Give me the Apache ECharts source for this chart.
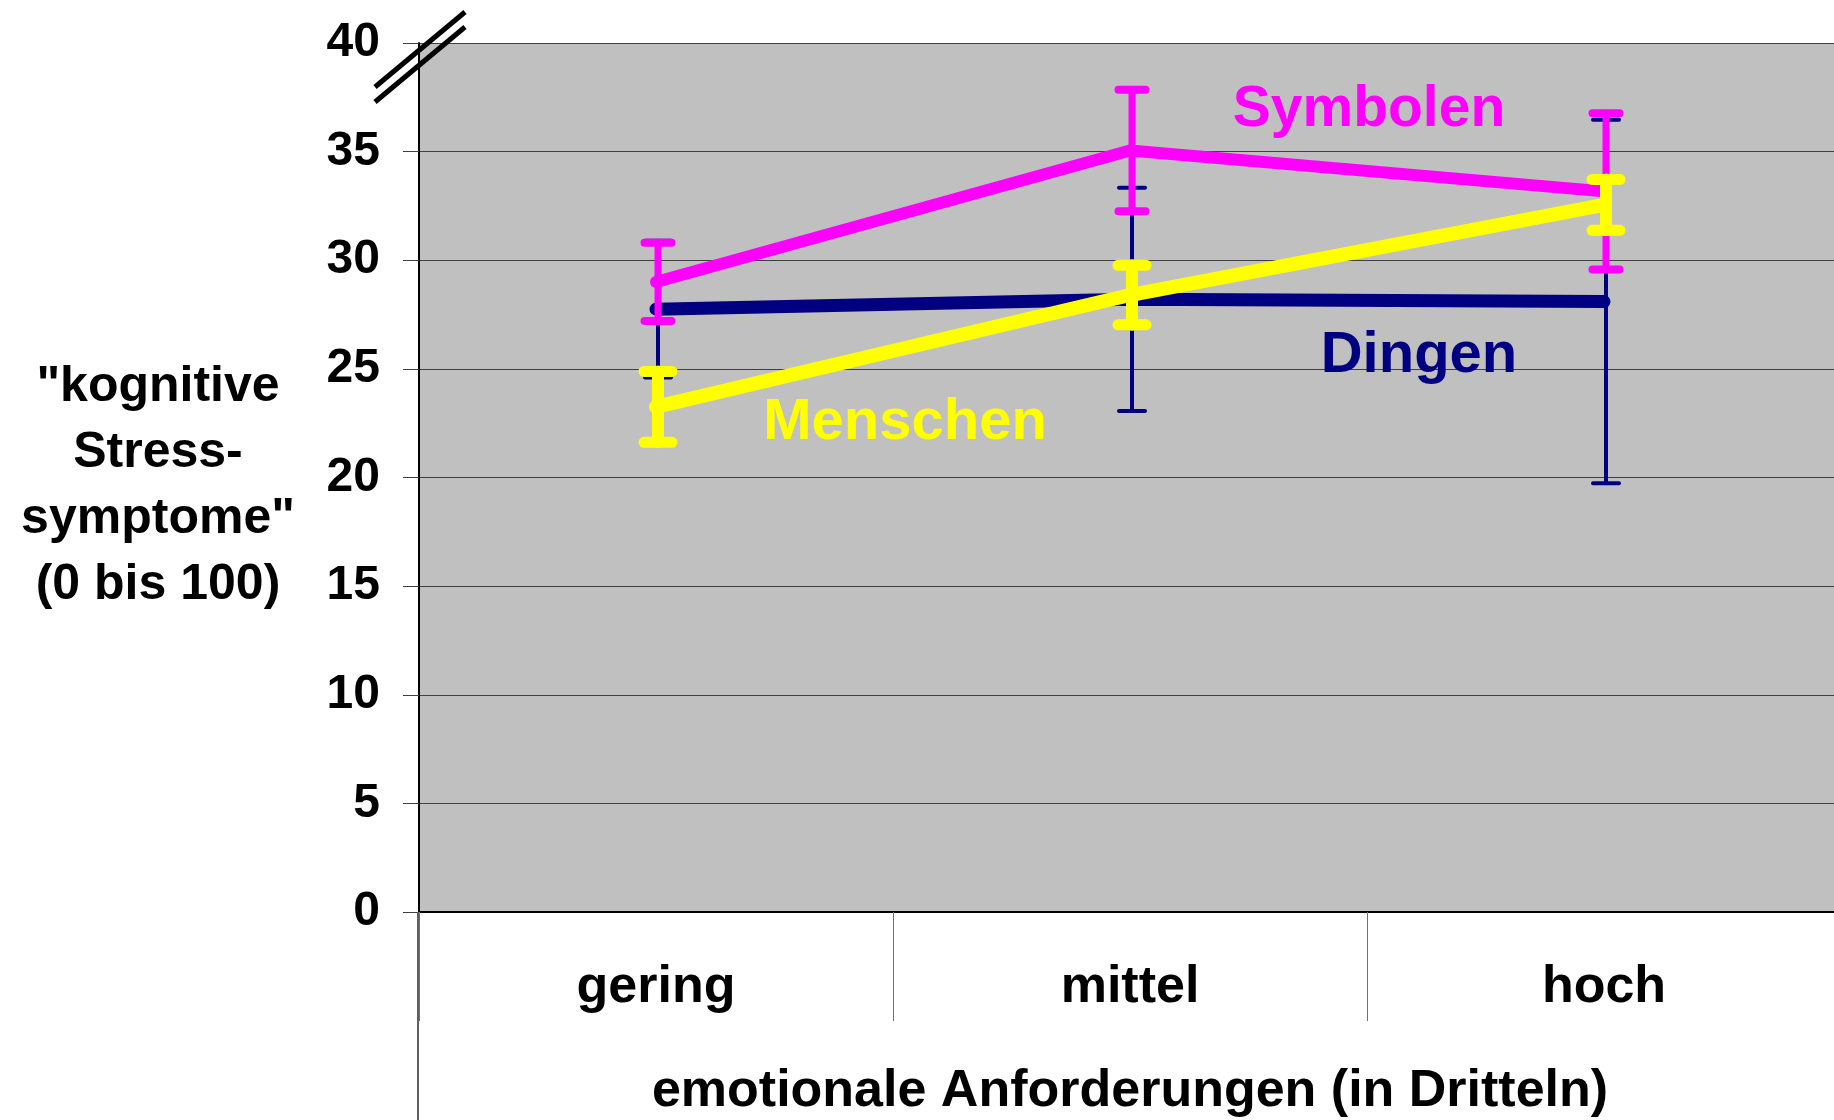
<!DOCTYPE html>
<html>
<head>
<meta charset="utf-8">
<script src="https://cdn.jsdelivr.net/npm/echarts@6/dist/echarts.min.js"></script>
<style>
html,body{margin:0;padding:0;background:#fff;}
#c{width:1834px;height:1120px;}
</style>
</head>
<body>
<div id="c"></div>
<script>
const categories = ['gering', 'mittel', 'hoch'];
const yTicks = [0, 5, 10, 15, 20, 25, 30, 35, 40];
const seriesNames = ['Dingen', 'Symbolen', 'Menschen'];
const dingen = [27.75, 28.2, 28.1];
const dingenErr = [3.15, 5.14, 8.37];
const symbolen = [29.0, 35.05, 33.17];
const symbolenErr = [1.8, 2.8, 3.6];
const menschen = [23.25, 28.4, 32.55];
const menschenErr = [1.63, 1.37, 1.17];
const xTitle = 'emotionale Anforderungen (in Dritteln)';
const yTitle = '"kognitive\nStress-\nsymptome"\n(0 bis 100)';

const FONT = '"Liberation Sans", Arial, sans-serif';
const GL = 419, GT = 43, GW = 1422, GH = 869;

function lineSeries(name, data, color, width, z) {
  return {
    name: name, type: 'line', data: data, z: z,
    symbol: 'none', showSymbol: false, silent: true,
    lineStyle: { color: color, width: width, cap: 'round', join: 'round' }
  };
}
function errSeries(name, vals, errs, color, vw, capLen, capW, z) {
  return {
    name: name + ' err', type: 'custom', z: z, silent: true,
    data: vals.map((v, i) => [i, v - errs[i], v + errs[i]]),
    encode: { x: 0, y: [1, 2] },
    renderItem: function (params, api) {
      const lo = api.coord([api.value(0), api.value(1)]);
      const hi = api.coord([api.value(0), api.value(2)]);
      const x = lo[0] + 2;
      const st = { stroke: color, lineWidth: vw, lineCap: 'round' };
      const cs = { stroke: color, lineWidth: capW, lineCap: 'round' };
      return {
        type: 'group',
        children: [
          { type: 'line', shape: { x1: x, y1: lo[1], x2: x, y2: hi[1] }, style: st },
          { type: 'line', shape: { x1: x - capLen / 2, y1: hi[1], x2: x + capLen / 2, y2: hi[1] }, style: cs },
          { type: 'line', shape: { x1: x - capLen / 2, y1: lo[1], x2: x + capLen / 2, y2: lo[1] }, style: cs }
        ]
      };
    }
  };
}

const chart = echarts.init(document.getElementById('c'), null, { renderer: 'canvas' });
chart.setOption({
  animation: false,
  backgroundColor: '#ffffff',
  textStyle: { fontFamily: FONT },
  grid: { left: GL, top: GT, width: GW, height: GH, show: true, backgroundColor: '#c0c0c0', borderWidth: 0,
    containLabel: false, outerBoundsMode: 'none' },
  xAxis: {
    type: 'category', data: categories, boundaryGap: true,
    axisLine: { show: true, onZero: false, lineStyle: { color: '#000', width: 2 } },
    axisTick: { show: true, interval: 0, length: 109, lineStyle: { color: '#707070', width: 1 } },
    axisLabel: { interval: 0, margin: 76, verticalAlign: 'middle', fontSize: 52, fontWeight: 'bold', color: '#000', fontFamily: FONT },
    name: xTitle, nameLocation: 'middle', nameGap: 180,
    nameTextStyle: { fontSize: 52, fontWeight: 'bold', color: '#000', verticalAlign: 'middle', fontFamily: FONT },
    splitLine: { show: false }
  },
  yAxis: {
    type: 'value', min: 0, max: 40, interval: 5,
    axisLine: { show: true, lineStyle: { color: '#000', width: 2 } },
    axisTick: { show: true, length: 16, lineStyle: { color: '#404040', width: 1 } },
    axisLabel: { margin: 39, fontSize: 48, fontWeight: 'bold', color: '#000', fontFamily: FONT,
      formatter: v => (yTicks.indexOf(v) >= 0 ? String(v) : '') },
    splitLine: { show: true, lineStyle: { color: '#404040', width: 1 } }
  },
  graphic: [
    { type: 'line', shape: { x1: GL - 1, y1: GT + GH, x2: GL - 1, y2: 1120 }, style: { stroke: '#606060', lineWidth: 2 }, z: 10 },
    { type: 'line', shape: { x1: 375, y1: 87, x2: 465, y2: 12 }, style: { stroke: '#000', lineWidth: 5 }, z: 10 },
    { type: 'line', shape: { x1: 375, y1: 102, x2: 465, y2: 27 }, style: { stroke: '#000', lineWidth: 5 }, z: 10 },
    { type: 'text', x: 158, y: 486, z: 10,
      style: { text: yTitle, font: 'bold 50px ' + FONT, fill: '#000', align: 'center', verticalAlign: 'middle', lineHeight: 66 } },
    { type: 'text', x: 1369, y: 110, z: 20,
      style: { text: seriesNames[1], font: 'bold 57px ' + FONT, fill: '#ff00ff', align: 'center', verticalAlign: 'middle' } },
    { type: 'text', x: 1419, y: 356, z: 20,
      style: { text: seriesNames[0], font: 'bold 58px ' + FONT, fill: '#000080', align: 'center', verticalAlign: 'middle' } },
    { type: 'text', x: 905, y: 423, z: 20,
      style: { text: seriesNames[2], font: 'bold 58px ' + FONT, fill: '#ffff00', align: 'center', verticalAlign: 'middle' } }
  ],
  series: [
    errSeries(seriesNames[0], dingen, dingenErr, '#000080', 4, 26, 4, 2),
    lineSeries(seriesNames[0], dingen, '#000080', 13, 2),
    errSeries(seriesNames[1], symbolen, symbolenErr, '#ff00ff', 7, 27, 8, 3),
    lineSeries(seriesNames[1], symbolen, '#ff00ff', 12, 3),
    errSeries(seriesNames[2], menschen, menschenErr, '#ffff00', 12, 28, 11, 4),
    lineSeries(seriesNames[2], menschen, '#ffff00', 14, 4)
  ]
});
</script>
</body>
</html>
